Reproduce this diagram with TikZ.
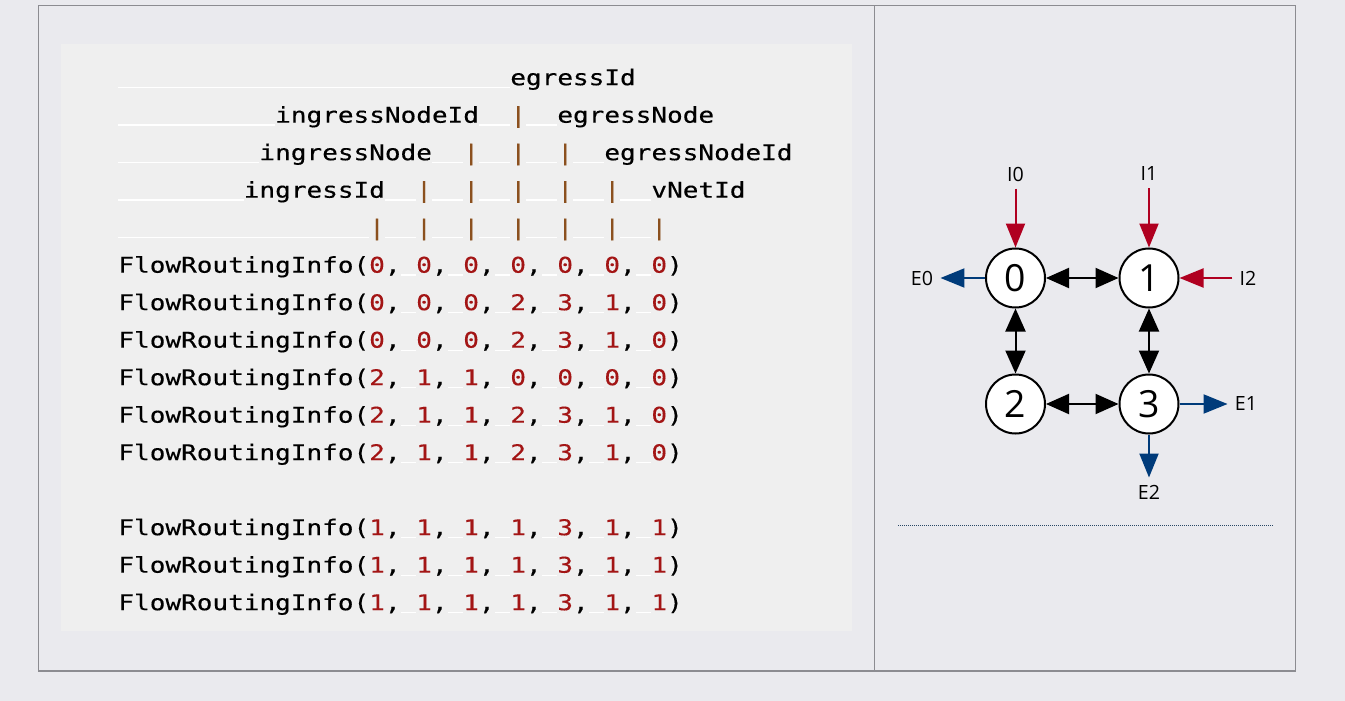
\documentclass[tikz,border=0pt]{standalone}
\usepackage{fontspec}
\usetikzlibrary{arrows.meta}
\setmainfont{Open Sans}
\newfontfamily\codefont[FakeStretch=1.2, FakeBold=0.3]{DejaVu Sans Mono}
\definecolor{pagebg}{RGB}{234,234,238}
\definecolor{codebg}{RGB}{239,239,239}
\definecolor{framegray}{RGB}{140,140,145}
\definecolor{numred}{RGB}{163,21,21}
\definecolor{pipebrown}{RGB}{139,80,30}
\definecolor{inred}{RGB}{176,0,32}
\definecolor{outblue}{RGB}{0,59,122}
\definecolor{rulecol}{RGB}{40,70,100}
\newcommand\blanks[1]{\setbox0\hbox{0}\rlap{\textcolor{white}{\rule[-1.6pt]{#1\wd0}{0.7pt}}}\kern#1\wd0\relax}
\newcommand\pp{\textcolor{pipebrown}{|}}
\newcommand\nm[1]{\textcolor{numred}{#1}}
\newcommand\fri[7]{FlowRoutingInfo(\nm{#1},\blanks{1}\nm{#2},\blanks{1}\nm{#3},\blanks{1}\nm{#4},\blanks{1}\nm{#5},\blanks{1}\nm{#6},\blanks{1}\nm{#7})}
\begin{document}
\begin{tikzpicture}[x=0.5pt, y=-0.5pt,
    code/.style={anchor=base west, inner sep=0pt, font=\codefont\fontsize{10.85}{13}\selectfont},
    stn/.style={circle, draw, fill=white, line width=1pt, minimum size=29.5pt, inner sep=0pt, font=\fontsize{18.7}{20}\selectfont},
    lbl/.style={inner sep=3.5pt, font=\fontsize{9.8}{11}\selectfont},
    link/.style={{Triangle[length=11.5pt,width=10pt]}-{Triangle[length=11.5pt,width=10pt]}, line width=1pt},
    inflow/.style={-{Triangle[length=12pt,width=9.5pt]}, line width=1pt, inred},
    outflow/.style={-{Triangle[length=12pt,width=9.5pt]}, line width=1pt, outblue}]
  \fill[pagebg] (0,0) rectangle (1345,701);
  \draw[framegray, line width=0.6pt] (38.5,5.5) rectangle (1295.5,671)
        (874.5,5.5) -- (874.5,671);
  \fill[codebg] (61,44) rectangle (852,631);

  \node[code] (h1) at (118,85.2)  {\blanks{25}egressId};
  \node[code] (h2) at (118,122.7) {\blanks{10}ingressNodeId\blanks{2}\pp\blanks{2}egressNode};
  \node[code] (h3) at (118,160.2) {\blanks{9}ingressNode\blanks{2}\pp\blanks{2}\pp\blanks{2}\pp\blanks{2}egressNodeId};
  \node[code] (h4) at (118,197.7) {\blanks{8}ingressId\blanks{2}\pp\blanks{2}\pp\blanks{2}\pp\blanks{2}\pp\blanks{2}\pp\blanks{2}vNetId};
  \node[code] (h5) at (118,235.2) {\blanks{16}\pp\blanks{2}\pp\blanks{2}\pp\blanks{2}\pp\blanks{2}\pp\blanks{2}\pp\blanks{2}\pp};

  \node[code] (r1) at (118,272.7) {\fri0000000};
  \node[code] (r2) at (118,310.2) {\fri0002310};
  \node[code] (r3) at (118,347.7) {\fri0002310};
  \node[code] (r4) at (118,385.2) {\fri2110000};
  \node[code] (r5) at (118,422.7) {\fri2112310};
  \node[code] (r6) at (118,460.2) {\fri2112310};
  \node[code] (r7) at (118,535.2) {\fri1111311};
  \node[code] (r8) at (118,572.7) {\fri1111311};
  \node[code] (r9) at (118,610.2) {\fri1111311};

  \draw (1015.5,278) node [stn] (n0) {0}
        (1149,278)   node [stn] (n1) {1}
        (1015.5,404) node [stn] (n2) {2}
        (1149,404)   node [stn] (n3) {3}
        (1015.5,174) node [lbl] (i0) {I0}
        (1149,174)   node [lbl] (i1) {I1}
        (1248,278)   node [lbl] (i2) {I2}
        (922,278)    node [lbl] (e0) {E0}
        (1246,404)   node [lbl] (e1) {E1}
        (1149,492)   node [lbl] (e2) {E2}
    (n0) edge [link] (n1)
         edge [link] (n2)
    (n3) edge [link] (n1)
         edge [link] (n2)
    (i0) edge [inflow] (n0)
    (i1) edge [inflow] (n1)
    (i2) edge [inflow] (n1)
    (n0) edge [outflow] (e0)
    (n3) edge [outflow] (e1)
         edge [outflow] (e2);
  \draw[rulecol, line width=0.5pt, dash pattern=on 0.5pt off 0.5pt] (898,525) -- (1273,525);
\end{tikzpicture}
\end{document}
